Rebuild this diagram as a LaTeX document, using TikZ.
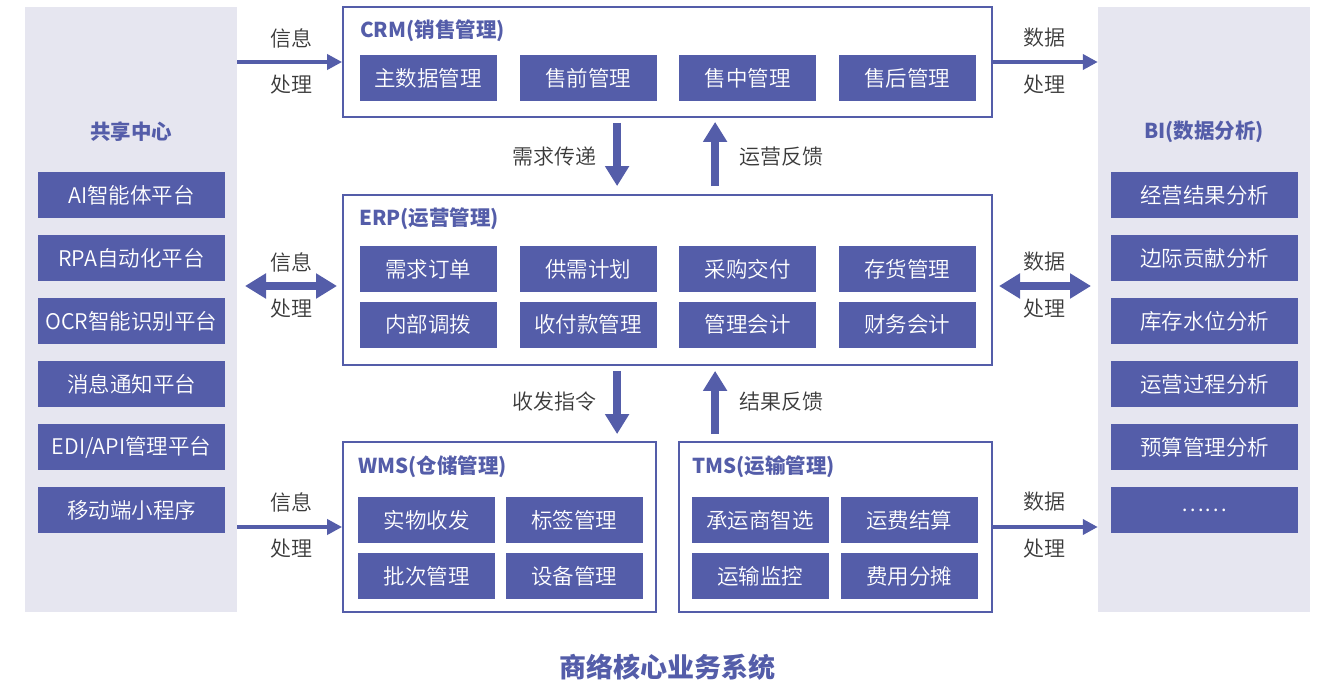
\documentclass[tikz,border=0pt]{standalone}
\usepackage{fontspec}
\setmainfont{Noto Sans CJK SC}
\newfontfamily\lightfont{Noto Sans CJK SC DemiLight}
\usetikzlibrary{arrows.meta,calc}
\definecolor{mainblue}{HTML}{545DA9}
\definecolor{panelbg}{HTML}{E6E6F0}
\definecolor{labelgray}{HTML}{3A3A3A}
\tikzset{
  panel/.style={fill=panelbg, draw=none, minimum width=212pt, minimum height=605pt, inner sep=0pt},
  sysbox/.style={draw=mainblue, line width=1.8pt, fill=white, inner sep=0pt},
  subbox/.style={fill=mainblue, text=white, minimum width=137pt, minimum height=46pt, inner sep=0pt, font=\lightfont\fontsize{21.5}{25}\selectfont},
  sidebox/.style={subbox, minimum width=187pt},
  systitle/.style={anchor=west, text=mainblue, font=\fontsize{20.5}{24}\selectfont\bfseries, inner sep=0pt},
  paneltitle/.style={text=mainblue, font=\fontsize{20.5}{24}\selectfont\bfseries, inner sep=0pt},
  lbl/.style={text=labelgray, font=\lightfont\fontsize{21}{24}\selectfont, inner sep=0pt},
  harrow/.style={draw=mainblue, line width=4pt, -{Triangle[width=15pt,length=15pt]}},
  varrow/.style={draw=mainblue, line width=8pt, -{Triangle[width=23pt,length=20pt]}},
  darrow/.style={draw=mainblue, line width=8pt, {Triangle[width=24pt,length=21pt]}-{Triangle[width=24pt,length=21pt]}},
}
\begin{document}
\begin{tikzpicture}[x=1pt,y=-1pt]
\useasboundingbox (0,0) rectangle (1325,687);
% side panels
\node[panel] (lp) at (131,309.5) {};
\node[panel] (rp) at (1204,309.5) {};
\node[paneltitle] (lpt) at (131,132) {共享中心};
\node[paneltitle] (rpt) at (1204,132) {BI(数据分析)};
\node[sidebox] (l1) at (131.5,195) {AI智能体平台};
\node[sidebox] (l2) at (131.5,258) {RPA自动化平台};
\node[sidebox] (l3) at (131.5,321) {OCR智能识别平台};
\node[sidebox] (l4) at (131.5,384) {消息通知平台};
\node[sidebox] (l5) at (131.5,447) {EDI/API管理平台};
\node[sidebox] (l6) at (131.5,510) {移动端小程序};
\node[sidebox] (r1) at (1204.5,195) {经营结果分析};
\node[sidebox] (r2) at (1204.5,258) {边际贡献分析};
\node[sidebox] (r3) at (1204.5,321) {库存水位分析};
\node[sidebox] (r4) at (1204.5,384) {运营过程分析};
\node[sidebox] (r5) at (1204.5,447) {预算管理分析};
\node[sidebox] (r6) at (1204.5,510) {……};
% system boxes
\node[sysbox, minimum width=649pt, minimum height=110pt] (crm) at (667.5,62) {};
\node[sysbox, minimum width=649pt, minimum height=170pt] (erp) at (667.5,280) {};
\node[sysbox, minimum width=313pt, minimum height=170pt] (wms) at (499.5,527) {};
\node[sysbox, minimum width=313pt, minimum height=170pt] (tms) at (835.5,527) {};
\node[systitle] (crmt) at (360,31) {CRM(销售管理)};
\node[systitle] (erpt) at (359,219) {ERP(运营管理)};
\node[systitle] (wmst) at (358,467) {WMS(仓储管理)};
\node[systitle] (tmst) at (692,467) {TMS(运输管理)};
% CRM subs
\node[subbox] (c1) at (428,78) {主数据管理};
\node[subbox] (c2) at (588,78) {售前管理};
\node[subbox] (c3) at (747.5,78) {售中管理};
\node[subbox] (c4) at (907,78) {售后管理};
% ERP subs
\node[subbox] (e1) at (428,269) {需求订单};
\node[subbox] (e2) at (588,269) {供需计划};
\node[subbox] (e3) at (747.5,269) {采购交付};
\node[subbox] (e4) at (907,269) {存货管理};
\node[subbox] (e5) at (428,324.5) {内部调拨};
\node[subbox] (e6) at (588,324.5) {收付款管理};
\node[subbox] (e7) at (747.5,324.5) {管理会计};
\node[subbox] (e8) at (907,324.5) {财务会计};
% WMS subs
\node[subbox] (w1) at (426.5,520) {实物收发};
\node[subbox] (w2) at (574,520) {标签管理};
\node[subbox] (w3) at (426.5,576) {批次管理};
\node[subbox] (w4) at (574,576) {设备管理};
% TMS subs
\node[subbox] (t1) at (760,520) {承运商智选};
\node[subbox] (t2) at (909,520) {运费结算};
\node[subbox] (t3) at (760,576) {运输监控};
\node[subbox] (t4) at (909,576) {费用分摊};
% horizontal arrows
\draw[harrow] (lp.east |- crm.west) -- (crm.west);
\draw[harrow] (crm.east) -- (rp.west |- crm.east);
\draw[harrow] (lp.east |- wms.west) -- (wms.west);
\draw[harrow] (tms.east) -- (rp.west |- tms.east);
\coordinate (dl1) at (245,286);
\coordinate (dl2) at (337,286);
\coordinate (dr1) at (999,286);
\coordinate (dr2) at (1091,286);
\draw[darrow] (dl1) -- (dl2);
\draw[darrow] (dr1) -- (dr2);
% vertical arrows
\draw[varrow] ($(crm.south west)+(275,5)$) -- ($(erp.north west)+(275,-8)$);
\draw[varrow] ($(erp.north west)+(373,-8)$) -- ($(crm.south west)+(373,4)$);
\draw[varrow] ($(erp.south west)+(275,5)$) -- ($(wms.north west)+(275,-7)$);
\draw[varrow] ($(tms.north west)+(37,-7)$) -- ($(erp.south west)+(373,5)$);
% labels
\node[lbl] (a1) at (291,38) {信息};
\node[lbl] (a2) at (291,85) {处理};
\node[lbl] (a3) at (291,262) {信息};
\node[lbl] (a4) at (291,309) {处理};
\node[lbl] (a5) at (291,502) {信息};
\node[lbl] (a6) at (291,549) {处理};
\node[lbl] (b1) at (1044,38) {数据};
\node[lbl] (b2) at (1044,85) {处理};
\node[lbl] (b3) at (1044,262) {数据};
\node[lbl] (b4) at (1044,309) {处理};
\node[lbl] (b5) at (1044,502) {数据};
\node[lbl] (b6) at (1044,549) {处理};
\node[lbl] (v1) at (554,157) {需求传递};
\node[lbl] (v2) at (781,157) {运营反馈};
\node[lbl] (v3) at (554,402) {收发指令};
\node[lbl] (v4) at (781,402) {结果反馈};
% caption
\node[text=mainblue, font=\fontsize{27}{31}\selectfont\bfseries, inner sep=0pt] (cap) at (667,667) {商络核心业务系统};
\end{tikzpicture}
\end{document}
